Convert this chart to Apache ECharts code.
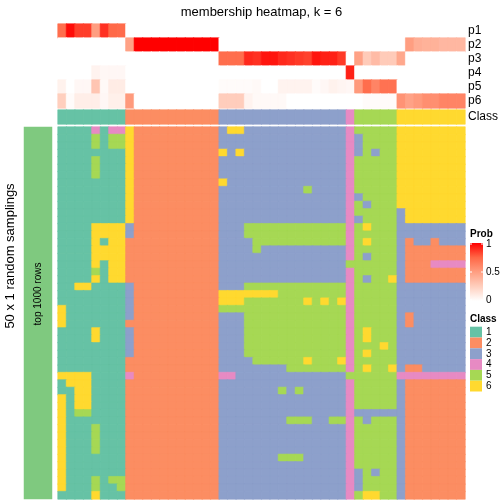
<!DOCTYPE html>
<html><head><meta charset="utf-8">
<script src="https://cdn.jsdelivr.net/npm/echarts@6/dist/echarts.min.js"></script>
<style>html,body{margin:0;padding:0;background:#fff}#c{width:504px;height:504px}</style>
</head><body><div id="c"></div>
<script>
// ---------- data ----------
const probNames = ['p1','p2','p3','p4','p5','p6'];
const p1 = [0.72,0.97,0.85,0.85,0.5,0.88,0.74,0.73, 0,0,0,0,0,0,0,0,0,0,0, 0,0,0,0,0,0,0,0,0,0,0,0,0,0,0, 0, 0,0,0,0,0, 0,0,0,0,0,0,0,0];
const p2 = [0,0,0,0,0,0,0,0, 0.48,1,1,1,1,1,1,1,1,1,1, 0,0,0,0,0,0,0,0,0,0,0,0,0,0,0, 0, 0,0,0,0,0, 0,0.5,0.42,0.4,0.4,0.37,0.37,0.37];
const p3 = [0,0,0,0,0,0,0,0, 0,0,0,0,0,0,0,0,0,0,0, 0.72,0.72,0.72,0.9,0.88,0.95,0.95,0.9,0.88,0.86,0.84,0.95,0.92,0.92,0.86, 0, 0.48,0.27,0.35,0.27,0.27, 0.45,0,0,0,0,0,0,0];
const p4 = [0,0,0,0,0.06,0.04,0.04,0.04, 0,0,0,0,0,0,0,0,0,0,0, 0,0,0,0,0,0,0,0,0,0,0,0,0,0,0, 0.92, 0,0,0,0,0, 0,0,0,0,0,0,0,0];
const p5 = [0.07,0,0.04,0.04,0.3,0.03,0.1,0.1, 0,0,0,0,0,0,0,0,0,0,0, 0.02,0.02,0.02,0.02,0.03,0,0,0.06,0.06,0.06,0.06,0.02,0.04,0.07,0.05, 0.04, 0.52,0.72,0.62,0.7,0.7, 0,0,0,0,0,0,0,0];
const p6 = [0.25,0.02,0.09,0.09,0.09,0.04,0.08,0.08, 0.52,0,0,0,0,0,0,0,0,0,0, 0.26,0.26,0.26,0.06,0.03,0.03,0.03,0.03,0,0,0,0,0,0,0, 0, 0,0.02,0.02,0.02,0.02, 0.55,0.48,0.52,0.57,0.57,0.62,0.62,0.62];
const sampleClass = [1,1,1,1,1,1,1,1, 2,2,2,2,2,2,2,2,2,2,2, 3,3,3,3,3,3,3,3,3,3,3,3,3,3,3, 4, 5,5,5,5,5, 6,6,6,6,6,6,6,6];
// 50 random samplings (rows) x 48 samples (columns): predicted class
const samplingRows = [
"11114144 62222222222 366333333333333 4 55555 66666666",
"11115155 62222222222 333333333333333 4 35555 66666666",
"11115155 62222222222 333333333333333 4 35555 66666666",
"11111111 62222222222 636333333333333 4 35355 66666666",
"11115111 62222222222 333333333333333 4 55555 66666666",
"11115111 62222222222 333333333333333 4 55555 66666666",
"11115111 62222222222 333333333333333 4 55555 66666666",
"11111111 62222222222 633333333333333 4 55555 66666666",
"11111111 62222222222 333333333353333 4 55555 66666666",
"11111111 62222222222 333333333333333 4 35555 66666666",
"11111111 62222222222 333333333333333 4 53555 66666666",
"11111111 62222222222 333333333333333 4 55555 36666666",
"11111111 62222222222 333333333333333 4 35555 36666666",
"11116666 32222222222 333555555555555 4 56555 33333333",
"11116666 32222222222 333555555555555 4 55555 33333333",
"11116166 22222222222 333355555555555 4 56555 32332333",
"11116666 22222222222 333353333333333 4 55555 32222222",
"11116666 22222222222 333333333333333 4 53555 32222222",
"11116166 22222222222 333333333333333 5 55555 32224444",
"11115166 22222222222 333333333333333 4 55555 32222222",
"11116166 22222222222 333333333333333 4 53556 32222222",
"11661111 32222222222 333555555555555 4 55555 33333333",
"11111111 32222222222 666666655555555 4 55555 33333333",
"11111111 32222222222 666555555565656 4 55555 33333333",
"61111111 32222222222 555555555555555 4 55555 33333333",
"61111111 32222222222 333555555555555 4 55555 32333333",
"61111111 22222222222 333555555555555 4 55555 32333333",
"11116111 32222222222 333555555555555 4 56555 33333333",
"11116111 32222222222 333555555555555 4 56555 33333333",
"11111111 32222222222 333555555555555 4 55565 33333333",
"11111111 32222222222 333555555555555 4 56555 33333333",
"11111111 22222222222 333355555565556 4 55555 33333333",
"11111111 22222222222 333333335555555 4 56556 32233333",
"66661111 42222222222 443333333333333 5 55555 44444444",
"16661111 22222222222 333333333333333 4 55555 32222222",
"11661111 22222222222 333333353533333 4 55555 32222222",
"61661111 22222222222 333333333333333 4 55555 32222222",
"61661111 22222222222 333333333333333 4 55555 32222222",
"61551111 22222222222 333333333333333 4 33333 32222222",
"61111111 22222222222 333333335553355 4 53555 32222222",
"61115111 22222222222 333333333333333 4 55555 32222222",
"61115111 22222222222 333333333333333 4 55555 32222222",
"61115111 22222222222 333333333333333 4 55555 32222222",
"61115111 22222222222 333333333333333 4 55555 32222222",
"61111111 22222222222 333333355533333 4 55555 32222222",
"61111111 22222222222 333333333333333 4 55555 32222222",
"61111111 22222222222 333333333333333 4 35355 32222222",
"61115155 22222222222 333333333333333 4 35555 32222222",
"61115115 22222222222 333333333333333 4 35555 32222222",
"11116111 22222222222 333333333333333 4 56655 32222222"
];
const classLabels = ['1','2','3','4','5','6'];
const classColors = ['#66C2A5','#FC8D62','#8DA0CB','#E78AC3','#A6D854','#FFD92F'];
const probTicks = ['1','0.5','0'];

// ---------- build ----------
const FONT = 'Liberation Sans, Arial, Helvetica, sans-serif';
const rampStops = ['#FFFFFF','#FFCFBE','#FF9E81','#FF6746','#FF0000'];
function hex2rgb(h){ return [1,3,5].map(i => parseInt(h.substr(i,2),16)); }
function rampColor(v){
  const n = rampStops.length - 1, t = Math.max(0, Math.min(1, v)) * n;
  const i = Math.min(n - 1, Math.floor(t)), f = t - i;
  const a = hex2rgb(rampStops[i]), b = hex2rgb(rampStops[i + 1]);
  return 'rgb(' + a.map((x, k) => Math.round(x + (b[k] - x) * f)).join(',') + ')';
}
const cols = sampleClass.map((_, i) => String(i));
const probs = [p1,p2,p3,p4,p5,p6];
const probData = [];
probs.forEach((arr, r) => arr.forEach((v, c) => probData.push({value:[c, r, v], itemStyle:{borderColor:rampColor(v), borderWidth:0.6}})));
const classData = sampleClass.map((v, c) => ({value:[c, 0, v], itemStyle:{borderColor:classColors[v - 1], borderWidth:0.6}}));
const mainRows = samplingRows.map(s => s.replace(/ /g, ''));
const mainData = [];
mainRows.forEach((s, r) => { for (let c = 0; c < s.length; c++) { const v = +s[c]; mainData.push({value:[c, r, v], itemStyle:{borderColor:classColors[v - 1], borderWidth:0.6}}); } });
const rowCats = mainRows.map((_, i) => String(i));

const chart = echarts.init(document.getElementById('c'), null, {renderer: 'canvas'});
const L = 58, W = 407;
const hidden = {show:false};
const lab = {fontSize:12, fontFamily:FONT, color:'#000', margin:3, interval:0};

const graphics = [
  {type:'text', z:100, x:261.5, y:12, style:{text:'membership heatmap, k = 6', font:'13px ' + FONT, fill:'#000', textAlign:'center', textVerticalAlign:'middle'}},
  {type:'text', z:100, x:10, y:256, rotation:Math.PI/2, style:{text:'50 x 1 random samplings', font:'13px ' + FONT, fill:'#000', textAlign:'center', textVerticalAlign:'middle'}},
  {type:'text', z:100, x:38, y:294, rotation:Math.PI/2, style:{text:'top 1000 rows', font:'10px ' + FONT, fill:'#000', textAlign:'center', textVerticalAlign:'middle'}},
  {type:'text', z:100, x:470, y:234, style:{text:'Prob', font:'bold 10px ' + FONT, fill:'#000', textAlign:'left', textVerticalAlign:'middle'}},
  {type:'rect', z:100, shape:{x:470, y:243, width:13, height:58}, style:{fill:{type:'linear', x:0, y:0, x2:0, y2:1, colorStops:[
    {offset:0, color:'#FF0000'},{offset:0.25, color:'#FF6746'},{offset:0.5, color:'#FF9E81'},{offset:0.75, color:'#FFCFBE'},{offset:1, color:'#FFFFFF'}]}}},
  {type:'text', z:100, x:470, y:319, style:{text:'Class', font:'bold 10px ' + FONT, fill:'#000', textAlign:'left', textVerticalAlign:'middle'}}
];
probTicks.forEach((t, i) => {
  const y = 244 + i * 28;
  graphics.push({type:'rect', z:101, shape:{x:470, y:y - 0.5, width:2, height:1}, style:{fill:'#fff'}});
  graphics.push({type:'rect', z:101, shape:{x:481, y:y - 0.5, width:2, height:1}, style:{fill:'#fff'}});
  graphics.push({type:'text', z:100, x:486, y:y, style:{text:t, font:'10px ' + FONT, fill:'#000', textAlign:'left', textVerticalAlign:'middle'}});
});
classLabels.forEach((t, i) => {
  const y = 326.7 + i * 10.8;
  graphics.push({type:'rect', z:100, shape:{x:470, y:y, width:12, height:10.8}, style:{fill:classColors[i]}});
  graphics.push({type:'text', z:100, x:486, y:y + 5.6, style:{text:t, font:'10px ' + FONT, fill:'#000', textAlign:'left', textVerticalAlign:'middle'}});
});

const option = {
  animation:false,
  backgroundColor:'#fff',
  grid:[
    {left:L, top:24, width:W, height:84},
    {left:L, top:110, width:W, height:14},
    {left:L, top:127, width:W, height:372},
    {left:24, top:127, width:28, height:372}
  ],
  xAxis:[
    {type:'category', gridIndex:0, data:cols, show:false},
    {type:'category', gridIndex:1, data:cols, show:false},
    {type:'category', gridIndex:2, data:cols, show:false},
    {type:'category', gridIndex:3, data:['bar'], show:false}
  ],
  yAxis:[
    {type:'category', gridIndex:0, data:probNames, inverse:true, position:'right', axisLine:hidden, axisTick:hidden, splitLine:hidden, axisLabel:lab},
    {type:'category', gridIndex:1, data:['Class'], position:'right', axisLine:hidden, axisTick:hidden, splitLine:hidden, axisLabel:lab},
    {type:'category', gridIndex:2, data:rowCats, inverse:true, show:false},
    {type:'category', gridIndex:3, data:['bar'], show:false}
  ],
  visualMap:[
    {type:'continuous', seriesIndex:0, min:0, max:1, show:false, inRange:{color:rampStops}},
    {type:'piecewise', seriesIndex:[1,2], show:false, dimension:2,
      pieces:classColors.map((col, i) => ({value:i + 1, color:col}))}
  ],
  series:[
    {type:'heatmap', xAxisIndex:0, yAxisIndex:0, data:probData, silent:true},
    {type:'heatmap', xAxisIndex:1, yAxisIndex:1, data:classData, silent:true},
    {type:'heatmap', xAxisIndex:2, yAxisIndex:2, data:mainData, silent:true},
    {type:'heatmap', xAxisIndex:3, yAxisIndex:3, data:[{value:[0,0,1], itemStyle:{color:'#7FC97F'}}], silent:true, itemStyle:{color:'#7FC97F', borderWidth:0}}
  ],
  graphic:graphics
};
chart.setOption(option);
</script></body></html>
